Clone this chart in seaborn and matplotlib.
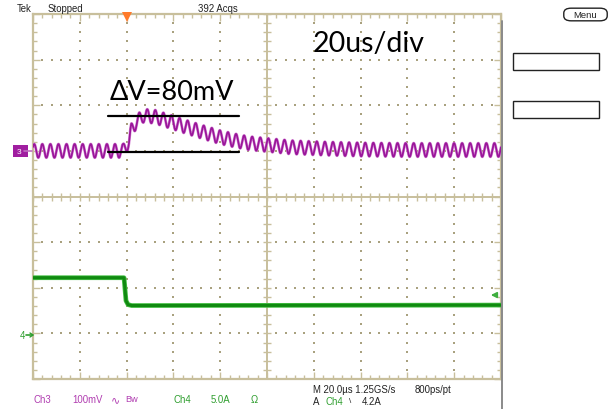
import numpy as np
import pandas as pd
import matplotlib
matplotlib.use("Agg")
import matplotlib.pyplot as plt
from matplotlib.patches import Rectangle, FancyBboxPatch
from matplotlib.lines import Line2D
import seaborn as sns

# ---------------- data ----------------
time_per_div_us = 20.0            # 20 us/div, 10 divisions
trigger_time_us = 40.0            # trigger 2 divisions from the left
ch3_scale_mV = 100.0              # Ch3 100 mV/div
ch3_offset_div = 1.0              # Ch3 ground marker one div above centre
ch4_scale_A = 5.0                 # Ch4 5.0 A/div
ch4_offset_div = -3.0             # Ch4 ground marker three divs below centre
trigger_level_A = 4.2

# Ch3 output voltage: mean level (mV above baseline) at key times
ch3_t_us = [0.0, 38.5, 39.5, 41.0, 42.0, 44.0, 47.0, 52.0, 58.0, 64.0, 72.0,
            80.0, 86.0, 92.0, 100.0, 110.0, 125.0, 140.0, 160.0, 200.0]
ch3_mean_mV = [0, 0, 10, 18, 45, 62, 77, 75, 65, 55, 42,
               30, 23, 17, 13, 8, 5, 3, 2, 2]
ch3_ripple_mV = 15.0              # ripple half amplitude
ch3_ripple_period_us = 3.45       # ripple period

# Ch4 load current: key points (us, A)
ch4_t_us = [0.0, 38.9, 39.7, 40.6, 42.0, 200.0]
ch4_A = [6.1, 6.1, 3.6, 3.15, 3.05, 3.1]

delta_label = "ΔV=80mV"
delta_low_mV, delta_high_mV = -2.5, 76.0
delta_t_us = (32.0, 88.0)
timebase_label = "20us/div"

# ---------------- figure ----------------
sns.set_style("white")
plt.rcParams['font.family'] = ['Liberation Sans', 'DejaVu Sans']

W, H = 611, 410
fig = plt.figure(figsize=(W / 100, H / 100), dpi=100)
fig.patch.set_facecolor("white")

def fx(x):
    return x / W

def fy(y):
    return 1 - y / H

AX_L, AX_T, AX_R, AX_B = 33, 15, 501, 380
ax = fig.add_axes([fx(AX_L), fy(AX_B), (AX_R - AX_L) / W, (AX_B - AX_T) / H])
xmax = 10 * time_per_div_us
ax.set_xlim(0, xmax)
ax.set_ylim(-4, 4)
ax.set_facecolor("white")

beige = "#c8bf9c"
dotc = "#a9a17f"
for s in ax.spines.values():
    s.set_color(beige)
    s.set_linewidth(1.6)

ax.set_xticks(np.arange(0, xmax + 0.1, time_per_div_us))
ax.set_xticks(np.arange(0, xmax + 0.1, time_per_div_us / 5), minor=True)
ax.set_yticks(np.arange(-4, 4.01, 1))
ax.set_yticks(np.arange(-4, 4.01, 0.2), minor=True)
ax.tick_params(which="both", direction="in", top=True, right=True, bottom=True, left=True,
               labelbottom=False, labelleft=False, color=beige, width=1.0)
ax.tick_params(which="major", length=5.0)
ax.tick_params(which="minor", length=2.8)

# graticule dots
mx = np.arange(time_per_div_us, xmax, time_per_div_us)
minx = np.arange(0, xmax + 0.1, time_per_div_us / 5)
my = np.arange(-3, 4, 1)
miny = np.arange(-4, 4.01, 0.2)
gx, gy = [], []
for x in mx:
    if abs(x - xmax / 2) < 1e-6:
        continue
    gx += [x] * len(miny)
    gy += list(miny)
for y in my:
    if y == 0:
        continue
    gx += list(minx)
    gy += [y] * len(minx)
ax.scatter(gx, gy, s=1.2, marker="s", color=dotc, linewidths=0, zorder=1)

# centre cross with ticks
ax.axhline(0, color=beige, lw=1.4, zorder=1)
ax.axvline(xmax / 2, color=beige, lw=1.4, zorder=1)
px_x = xmax / (AX_R - AX_L)
px_y = 8 / (AX_B - AX_T)
ax.vlines(minx, -4 * px_y, 4 * px_y, color=beige, lw=1.0, zorder=1)
ax.hlines(miny, xmax / 2 - 4 * px_x, xmax / 2 + 4 * px_x, color=beige, lw=1.0, zorder=1)

# ---------------- traces ----------------
t = np.linspace(0, xmax, 6000)
ch3_mean = np.interp(t, ch3_t_us, ch3_mean_mV)
ch3_v = ch3_mean + ch3_ripple_mV * np.sin(2 * np.pi * t / ch3_ripple_period_us + 0.6)
df3 = pd.DataFrame({"t": t, "div": ch3_offset_div + ch3_v / ch3_scale_mV})
ch4_i = np.interp(t, ch4_t_us, ch4_A)
df4 = pd.DataFrame({"t": t, "div": ch4_offset_div + ch4_i / ch4_scale_A})

sns.lineplot(data=df3, x="t", y="div", ax=ax, color="#d68ad6", lw=2.0, estimator=None, sort=False, zorder=3)
sns.lineplot(data=df3, x="t", y="div", ax=ax, color="#9a169a", lw=1.25, estimator=None, sort=False, zorder=4)
sns.lineplot(data=df4, x="t", y="div", ax=ax, color="#45c045", lw=3.4, estimator=None, sort=False, zorder=3)
sns.lineplot(data=df4, x="t", y="div", ax=ax, color="#108a10", lw=2.2, estimator=None, sort=False, zorder=4)
ax.set_xlabel("")
ax.set_ylabel("")

# delta V annotation lines
for lvl in (delta_low_mV, delta_high_mV):
    yv = ch3_offset_div + lvl / ch3_scale_mV
    ax.plot(list(delta_t_us), [yv, yv], color="black", lw=1.6, zorder=5)

# trigger marker on top and trigger level arrow on right
ax.plot([trigger_time_us], [4 - 2.5 * px_y], marker="v", color="#ff7a2a", ms=7,
        clip_on=False, zorder=6, markeredgewidth=0)
trig_y = ch4_offset_div + trigger_level_A / ch4_scale_A
ax.annotate("", xy=(xmax - 13 * px_x, trig_y), xytext=(xmax - 2 * px_x, trig_y),
            arrowprops=dict(arrowstyle="-|>", color="#3fae3f", lw=1.3, mutation_scale=8),
            zorder=6)

# ---------------- texts ----------------
ts = 6.9
fig.text(fx(17), fy(9.5), "Tek", fontsize=ts, va="center", ha="left", color="#222222")
fig.text(fx(48), fy(9.5), "Stopped", fontsize=ts, va="center", ha="left", color="#222222")
fig.text(fx(198), fy(9.5), "392 Acqs", fontsize=ts, va="center", ha="left", color="#222222")

fig.text(fx(110), fy(93), delta_label, fontsize=19.5, family=["Lato", "DejaVu Sans"],
         va="center", ha="left", color="black")
fig.text(fx(313), fy(44), timebase_label, fontsize=20.5, family=["Lato", "DejaVu Sans"],
         va="center", ha="left", color="black")

purple_t = "#b03cb0"
green_t = "#2f9e2f"
by = 400
fig.text(fx(33), fy(by), "Ch3", fontsize=ts, va="center", color=purple_t)
fig.text(fx(72), fy(by), "100mV", fontsize=ts, va="center", color=purple_t)
fig.text(fx(111), fy(by), "∿", fontsize=ts + 1, va="center", color=purple_t, family=["DejaVu Sans"])
fig.text(fx(125), fy(by), "Bw", fontsize=ts - 0.3, va="center", color=purple_t)
fig.text(fx(173), fy(by), "Ch4", fontsize=ts, va="center", color=green_t)
fig.text(fx(211), fy(by), "5.0A", fontsize=ts, va="center", color=green_t)
fig.text(fx(251), fy(by), "Ω", fontsize=ts, va="center", color=green_t)
fig.text(fx(313), fy(390), "M 20.0µs 1.25GS/s", fontsize=ts, va="center", color="#222222")
fig.text(fx(415), fy(390), "800ps/pt", fontsize=ts, va="center", color="#222222")
fig.text(fx(313), fy(402), "A", fontsize=ts, va="center", color="#222222")
fig.text(fx(325), fy(402), "Ch4", fontsize=ts, va="center", color=green_t)
fig.text(fx(349), fy(402), "\\", fontsize=ts - 1, va="center", color="#222222")
fig.text(fx(362), fy(402), "4.2A", fontsize=ts, va="center", color="#222222")

# channel ground markers
fig.patches.append(Rectangle((fx(13), fy(158)), fx(15), 12 / H, transform=fig.transFigure,
                             facecolor="#a01ea0", edgecolor="none"))
fig.text(fx(18.5), fy(152), "3", fontsize=6, color="white", va="center", ha="center")
fig.add_artist(Line2D([fx(24), fx(32)], [fy(152), fy(152)], color="#c070c0", lw=1.2))
fig.text(fx(22), fy(336), "4", fontsize=ts, color=green_t, va="center", ha="center")
fig.add_artist(Line2D([fx(26), fx(32)], [fy(336), fy(336)], color=green_t, lw=1.2))
fig.add_artist(Line2D([fx(30), fx(33)], [fy(334), fy(336)], color=green_t, lw=1.0))
fig.add_artist(Line2D([fx(30), fx(33)], [fy(338), fy(336)], color=green_t, lw=1.0))

# right side panel
fig.add_artist(Line2D([fx(501.5), fx(501.5)], [fy(22), fy(410)], color="#8a8a8a", lw=1.4))
fig.patches.append(FancyBboxPatch((fx(565), fy(21)), fx(41), 11 / H, transform=fig.transFigure,
                                  boxstyle="round,pad=0.002,rounding_size=0.012",
                                  facecolor="white", edgecolor="#222222", lw=1.0))
fig.text(fx(585.5), fy(15.5), "Menu", fontsize=6.8, ha="center", va="center", color="#222222")
for top in (54, 102):
    fig.patches.append(Rectangle((fx(513), fy(top + 17)), fx(86), 17 / H, transform=fig.transFigure,
                                 facecolor="white", edgecolor="#222222", lw=1.0))

fig.savefig("out.png", dpi=100, facecolor="white")
